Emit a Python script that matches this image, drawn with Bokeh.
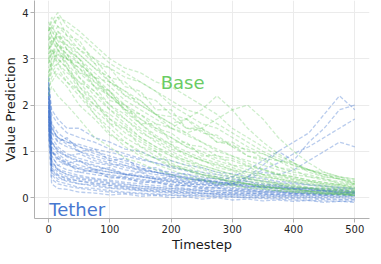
from bokeh.plotting import figure
from bokeh.models import Range1d, FixedTicker
from bokeh.embed import file_html
from bokeh.resources import INLINE

# Timesteps at which each run's value prediction is sampled
timesteps = [0, 5, 15, 30, 50, 75, 100, 125, 150, 175, 200, 225, 250, 275,
             300, 325, 350, 375, 400, 425, 450, 475, 500]

# "Base" runs (green)
base_runs = [
    [3.6, 3.8, 4.0, 3.7, 3.5, 3.2, 2.9, 2.7, 2.5, 2.3, 2.1, 1.9, 1.8, 1.6, 1.4, 1.2, 1.0, 0.85, 0.7, 0.6, 0.5, 0.4, 0.35],
    [3.2, 3.4, 3.5, 3.3, 3.0, 2.6, 2.3, 2.0, 1.7, 1.5, 1.3, 1.1, 0.95, 0.8, 0.7, 0.6, 0.5, 0.4, 0.32, 0.28, 0.22, 0.18, 0.15],
    [2.8, 3.0, 3.1, 2.9, 2.6, 2.2, 1.9, 1.6, 1.3, 1.1, 0.9, 0.8, 0.65, 0.55, 0.45, 0.4, 0.33, 0.28, 0.22, 0.2, 0.15, 0.12, 0.1],
    [3.5, 3.6, 3.4, 3.3, 3.1, 2.8, 2.6, 2.2, 2.0, 1.8, 1.5, 1.35, 1.2, 1.0, 0.9, 0.75, 0.6, 0.5, 0.42, 0.35, 0.3, 0.25, 0.2],
    [2.5, 2.7, 2.9, 2.6, 2.3, 1.9, 1.6, 1.3, 1.1, 0.9, 0.75, 0.6, 0.5, 0.42, 0.36, 0.3, 0.25, 0.2, 0.18, 0.14, 0.12, 0.1, 0.08],
    [3.0, 3.3, 3.6, 3.4, 3.2, 2.9, 2.5, 2.3, 2.1, 1.8, 1.6, 1.7, 1.5, 1.3, 1.1, 0.9, 0.8, 0.65, 0.55, 0.5, 0.4, 0.35, 0.3],
    [3.7, 3.5, 3.3, 3.0, 2.7, 2.4, 2.0, 1.7, 1.45, 1.2, 1.0, 0.85, 0.7, 0.6, 0.5, 0.42, 0.35, 0.3, 0.25, 0.2, 0.17, 0.14, 0.12],
    [2.9, 3.1, 3.3, 3.2, 3.0, 2.7, 2.4, 2.1, 1.9, 1.7, 1.5, 1.4, 1.5, 1.7, 1.9, 2.0, 1.7, 1.3, 1.0, 0.75, 0.55, 0.45, 0.35],
    [3.3, 3.5, 3.7, 3.6, 3.3, 3.0, 2.8, 2.6, 2.5, 2.3, 2.0, 1.8, 1.6, 1.5, 1.3, 1.1, 0.95, 0.8, 0.7, 0.6, 0.5, 0.4, 0.3],
    [2.6, 2.8, 2.9, 2.7, 2.5, 2.3, 2.0, 1.8, 1.5, 1.3, 1.1, 0.95, 0.8, 0.7, 0.6, 0.5, 0.45, 0.4, 0.35, 0.3, 0.25, 0.2, 0.18],
    [3.1, 3.2, 3.0, 2.8, 2.5, 2.1, 1.7, 1.4, 1.2, 1.0, 0.8, 0.7, 0.55, 0.45, 0.38, 0.3, 0.26, 0.22, 0.18, 0.15, 0.12, 0.1, 0.08],
    [3.4, 3.7, 3.9, 3.8, 3.6, 3.3, 3.0, 2.8, 2.7, 2.5, 2.4, 2.2, 2.0, 1.8, 1.5, 1.3, 1.1, 0.9, 0.75, 0.6, 0.5, 0.45, 0.4],
    [2.3, 2.6, 2.8, 2.5, 2.2, 1.8, 1.5, 1.2, 1.0, 0.85, 0.7, 0.6, 0.5, 0.4, 0.35, 0.3, 0.25, 0.2, 0.17, 0.14, 0.1, 0.08, 0.05],
    [3.0, 3.1, 3.2, 3.0, 2.8, 2.5, 2.2, 2.0, 1.8, 1.6, 1.5, 1.7, 1.9, 2.2, 1.9, 1.5, 1.2, 0.95, 0.75, 0.55, 0.45, 0.4, 0.3],
    [3.6, 3.7, 3.5, 3.2, 2.9, 2.6, 2.2, 1.9, 1.6, 1.35, 1.15, 1.0, 0.85, 0.75, 0.65, 0.55, 0.5, 0.45, 0.4, 0.35, 0.3, 0.28, 0.25],
    [2.7, 2.9, 3.0, 2.8, 2.4, 2.0, 1.7, 1.5, 1.25, 1.05, 0.9, 0.75, 0.62, 0.5, 0.42, 0.36, 0.3, 0.26, 0.22, 0.2, 0.18, 0.15, 0.12],
    [3.2, 3.3, 3.5, 3.4, 3.1, 2.8, 2.5, 2.3, 2.0, 1.8, 1.6, 1.4, 1.2, 1.05, 0.9, 0.8, 0.7, 0.6, 0.5, 0.45, 0.38, 0.32, 0.28],
    [2.4, 2.5, 2.7, 2.5, 2.3, 2.0, 1.8, 1.55, 1.3, 1.1, 0.95, 0.8, 0.7, 0.6, 0.5, 0.42, 0.36, 0.3, 0.26, 0.22, 0.2, 0.18, 0.16],
    [3.0, 2.8, 3.2, 2.9, 2.4, 2.1, 1.6, 1.5, 1.1, 1.0, 0.7, 0.65, 0.5, 0.45, 0.3, 0.3, 0.2, 0.22, 0.12, 0.14, 0.08, 0.1, 0.05],
    [3.8, 3.6, 3.9, 3.5, 3.4, 2.9, 2.8, 2.4, 2.3, 1.9, 1.9, 1.5, 1.5, 1.2, 1.15, 0.9, 0.85, 0.65, 0.6, 0.45, 0.42, 0.3, 0.28],
    [2.2, 2.4, 2.2, 2.0, 1.7, 1.3, 1.1, 0.85, 0.75, 0.6, 0.5, 0.4, 0.38, 0.3, 0.25, 0.22, 0.18, 0.15, 0.12, 0.1, 0.08, 0.06, 0.05],
    [3.3, 3.1, 3.4, 3.0, 2.9, 2.4, 2.3, 1.9, 1.8, 1.5, 1.4, 1.15, 1.1, 0.9, 0.85, 0.7, 0.62, 0.52, 0.45, 0.38, 0.33, 0.28, 0.22],
    [2.9, 3.2, 2.9, 3.1, 2.7, 2.6, 2.1, 2.0, 1.6, 1.6, 1.2, 1.2, 0.9, 0.92, 0.7, 0.68, 0.5, 0.5, 0.38, 0.36, 0.28, 0.25, 0.2],
    [3.5, 3.3, 3.6, 3.2, 3.0, 2.5, 2.3, 1.85, 1.6, 1.3, 1.15, 0.9, 0.82, 0.65, 0.58, 0.45, 0.4, 0.32, 0.28, 0.22, 0.2, 0.15, 0.12],
    [2.6, 3.0, 3.3, 3.1, 2.9, 2.6, 2.5, 2.2, 2.1, 1.8, 1.75, 1.5, 1.45, 1.2, 1.2, 1.0, 0.95, 0.8, 0.75, 0.6, 0.55, 0.45, 0.4],
    [3.1, 3.4, 3.2, 2.8, 2.3, 1.8, 1.4, 1.1, 0.9, 0.72, 0.6, 0.48, 0.4, 0.32, 0.28, 0.22, 0.2, 0.15, 0.13, 0.1, 0.08, 0.07, 0.05],
    [2.7, 2.9, 3.1, 3.0, 2.8, 2.4, 2.2, 1.9, 1.7, 1.45, 1.3, 1.1, 1.0, 0.85, 0.8, 0.68, 0.6, 0.5, 0.45, 0.38, 0.33, 0.28, 0.22],
    [3.4, 3.5, 3.3, 3.1, 2.6, 2.3, 1.9, 1.7, 1.4, 1.25, 1.05, 0.95, 0.8, 0.72, 0.6, 0.55, 0.45, 0.42, 0.35, 0.32, 0.25, 0.22, 0.18],
    [3.6, 3.9, 3.7, 3.5, 3.2, 3.0, 2.6, 2.5, 2.2, 2.1, 1.8, 1.7, 1.4, 1.35, 1.1, 1.05, 0.85, 0.8, 0.62, 0.6, 0.45, 0.42, 0.32],
    [2.5, 2.8, 2.6, 2.4, 2.0, 1.7, 1.35, 1.2, 0.95, 0.85, 0.65, 0.6, 0.45, 0.42, 0.32, 0.3, 0.22, 0.2, 0.15, 0.14, 0.1, 0.08, 0.06],
]

# "Tether" runs (blue)
tether_runs = [
    [2.4, 1.2, 1.0, 0.9, 0.8, 0.7, 0.6, 0.5, 0.45, 0.4, 0.35, 0.3, 0.28, 0.25, 0.22, 0.2, 0.18, 0.15, 0.13, 0.12, 0.1, 0.1, 0.08],
    [2.0, 0.8, 0.6, 0.5, 0.45, 0.4, 0.35, 0.3, 0.25, 0.22, 0.2, 0.18, 0.15, 0.12, 0.1, 0.1, 0.08, 0.06, 0.05, 0.05, 0.04, 0.03, 0.03],
    [1.8, 1.5, 1.3, 1.2, 1.1, 1.0, 0.9, 0.8, 0.7, 0.6, 0.55, 0.5, 0.45, 0.4, 0.35, 0.3, 0.28, 0.25, 0.2, 0.18, 0.15, 0.13, 0.12],
    [2.2, 0.6, 0.45, 0.35, 0.3, 0.25, 0.2, 0.18, 0.15, 0.12, 0.1, 0.08, 0.06, 0.05, 0.04, 0.03, 0.02, 0.02, 0.0, 0.0, -0.02, -0.03, -0.03],
    [1.6, 1.0, 0.85, 0.75, 0.65, 0.6, 0.55, 0.5, 0.48, 0.45, 0.4, 0.38, 0.35, 0.3, 0.27, 0.25, 0.22, 0.2, 0.18, 0.16, 0.14, 0.12, 0.1],
    [2.5, 1.8, 1.6, 1.4, 1.3, 1.2, 1.05, 0.95, 0.85, 0.75, 0.65, 0.58, 0.5, 0.45, 0.4, 0.35, 0.3, 0.27, 0.24, 0.2, 0.18, 0.16, 0.15],
    [1.9, 0.5, 0.35, 0.3, 0.22, 0.2, 0.15, 0.12, 0.1, 0.08, 0.06, 0.05, 0.04, 0.03, 0.02, 0.0, -0.02, -0.03, -0.05, -0.06, -0.07, -0.08, -0.08],
    [2.1, 1.3, 1.1, 0.95, 0.85, 0.75, 0.7, 0.6, 0.55, 0.5, 0.45, 0.4, 0.38, 0.35, 0.45, 0.6, 0.8, 1.0, 1.2, 1.4, 1.8, 2.2, 1.9],
    [1.7, 0.9, 0.7, 0.6, 0.55, 0.5, 0.45, 0.4, 0.35, 0.32, 0.28, 0.25, 0.22, 0.2, 0.18, 0.16, 0.14, 0.12, 0.1, 0.09, 0.08, 0.07, 0.06],
    [2.3, 1.4, 1.2, 1.1, 1.0, 0.85, 0.75, 0.65, 0.6, 0.55, 0.5, 0.42, 0.38, 0.33, 0.3, 0.26, 0.22, 0.2, 0.17, 0.15, 0.14, 0.12, 0.1],
    [1.5, 0.7, 0.55, 0.45, 0.4, 0.35, 0.3, 0.25, 0.2, 0.18, 0.15, 0.13, 0.1, 0.08, 0.07, 0.06, 0.05, 0.05, 0.04, 0.03, 0.03, 0.02, 0.02],
    [2.0, 1.1, 0.95, 0.8, 0.7, 0.62, 0.55, 0.5, 0.45, 0.42, 0.38, 0.35, 0.32, 0.3, 0.35, 0.45, 0.6, 0.75, 0.95, 1.1, 1.3, 1.5, 1.7],
    [2.6, 1.6, 1.4, 1.25, 1.1, 0.95, 0.85, 0.75, 0.65, 0.55, 0.5, 0.45, 0.4, 0.35, 0.3, 0.28, 0.25, 0.22, 0.2, 0.18, 0.16, 0.14, 0.12],
    [1.4, 0.4, 0.3, 0.25, 0.2, 0.16, 0.12, 0.1, 0.08, 0.06, 0.05, 0.04, 0.03, 0.02, 0.01, 0.0, 0.0, -0.01, -0.02, -0.03, -0.04, -0.05, -0.05],
    [1.9, 1.0, 0.8, 0.7, 0.62, 0.55, 0.48, 0.42, 0.38, 0.34, 0.3, 0.27, 0.24, 0.22, 0.2, 0.18, 0.16, 0.15, 0.14, 0.13, 0.12, 0.11, 0.1],
    [2.2, 1.2, 1.0, 0.88, 0.78, 0.68, 0.6, 0.52, 0.46, 0.4, 0.36, 0.33, 0.3, 0.28, 0.26, 0.24, 0.23, 0.22, 0.21, 0.2, 0.2, 0.19, 0.18],
    [1.8, 0.65, 0.5, 0.42, 0.36, 0.3, 0.26, 0.22, 0.18, 0.15, 0.13, 0.11, 0.1, 0.09, 0.08, 0.08, 0.07, 0.07, 0.06, 0.06, 0.05, 0.05, 0.05],
    [2.4, 1.5, 1.3, 1.15, 1.0, 0.9, 0.8, 0.7, 0.62, 0.55, 0.48, 0.42, 0.37, 0.33, 0.3, 0.4, 0.55, 0.5, 0.6, 0.8, 1.0, 1.2, 1.1],
    [1.6, 0.9, 0.7, 0.75, 0.55, 0.6, 0.42, 0.45, 0.32, 0.35, 0.25, 0.27, 0.2, 0.22, 0.15, 0.17, 0.12, 0.14, 0.08, 0.1, 0.06, 0.08, 0.05],
    [2.3, 1.6, 1.2, 1.3, 1.0, 1.05, 0.8, 0.85, 0.62, 0.65, 0.5, 0.52, 0.4, 0.42, 0.32, 0.35, 0.26, 0.28, 0.2, 0.22, 0.16, 0.18, 0.12],
    [1.3, 0.3, 0.2, 0.18, 0.12, 0.1, 0.06, 0.08, 0.03, 0.05, 0.0, 0.02, -0.03, 0.0, -0.05, -0.03, -0.07, -0.05, -0.08, -0.06, -0.1, -0.08, -0.1],
    [2.0, 1.0, 0.9, 0.75, 0.8, 0.6, 0.65, 0.5, 0.55, 0.4, 0.45, 0.33, 0.38, 0.27, 0.3, 0.22, 0.25, 0.18, 0.2, 0.14, 0.16, 0.1, 0.12],
    [2.5, 1.9, 1.7, 1.5, 1.5, 1.3, 1.2, 1.05, 1.0, 0.85, 0.8, 0.7, 0.65, 0.55, 0.52, 0.45, 0.42, 0.35, 0.33, 0.28, 0.26, 0.22, 0.2],
    [1.7, 0.55, 0.4, 0.38, 0.3, 0.28, 0.22, 0.2, 0.16, 0.14, 0.12, 0.1, 0.09, 0.07, 0.06, 0.05, 0.04, 0.03, 0.02, 0.01, 0.0, 0.0, -0.02],
    [2.1, 1.2, 1.05, 0.9, 0.95, 0.8, 0.72, 0.7, 0.58, 0.55, 0.46, 0.44, 0.36, 0.34, 0.28, 0.3, 0.22, 0.24, 0.18, 0.2, 0.14, 0.16, 0.12],
    [1.9, 0.8, 0.62, 0.55, 0.48, 0.42, 0.38, 0.33, 0.3, 0.26, 0.24, 0.2, 0.19, 0.16, 0.15, 0.13, 0.12, 0.1, 0.1, 0.08, 0.08, 0.07, 0.06],
    [2.2, 1.4, 1.3, 1.2, 1.15, 1.05, 0.98, 0.9, 0.82, 0.75, 0.68, 0.6, 0.55, 0.5, 0.45, 0.4, 0.36, 0.32, 0.3, 0.27, 0.24, 0.22, 0.2],
    [1.5, 0.6, 0.48, 0.4, 0.36, 0.32, 0.27, 0.24, 0.21, 0.19, 0.17, 0.15, 0.14, 0.12, 0.11, 0.1, 0.09, 0.08, 0.08, 0.07, 0.06, 0.06, 0.05],
    [2.4, 1.0, 0.85, 0.72, 0.62, 0.55, 0.5, 0.45, 0.4, 0.36, 0.34, 0.3, 0.28, 0.26, 0.3, 0.45, 0.7, 1.0, 0.8, 1.2, 1.5, 1.9, 2.0],
    [1.8, 0.75, 0.6, 0.5, 0.42, 0.38, 0.32, 0.28, 0.25, 0.22, 0.2, 0.18, 0.16, 0.15, 0.14, 0.13, 0.12, 0.12, 0.11, 0.1, 0.1, 0.09, 0.09],
]

x_ticks = [0, 100, 200, 300, 400, 500]
y_ticks = [0, 1, 2, 3, 4]
base_label = "Base"
tether_label = "Tether"

GREEN = "#6acc64"
BLUE = "#4878d0"
FONT = "DejaVu Sans"

p = figure(frame_width=335, frame_height=218, output_backend="svg", toolbar_location=None,
           x_range=Range1d(-23, 524), y_range=Range1d(-0.45, 4.26),
           min_border_left=3, min_border_right=1, min_border_top=0, min_border_bottom=0)
p.outline_line_color = None
p.background_fill_color = "white"

for run in tether_runs:
    p.line(timesteps, run, line_color=BLUE, line_alpha=0.38, line_width=1.3, line_dash="4 2")
for run in base_runs:
    p.line(timesteps, run, line_color=GREEN, line_alpha=0.33, line_width=1.3, line_dash="4 2")

p.text(x=[183], y=[2.49], text=[base_label], text_color=GREEN, text_font_size="18px",
       text_font={"value": FONT}, text_baseline="alphabetic")
p.text(x=[1], y=[-0.26], text=[tether_label], text_color=BLUE, text_font_size="18px",
       text_font={"value": FONT}, text_baseline="alphabetic")

p.xaxis.ticker = FixedTicker(ticks=x_ticks)
p.yaxis.ticker = FixedTicker(ticks=y_ticks)
for ax in (p.xaxis[0], p.yaxis[0]):
    ax.axis_line_color = "#b0b0b0"
    ax.major_tick_line_color = "#b0b0b0"
    ax.major_tick_out = 4
    ax.major_tick_in = 0
    ax.minor_tick_line_color = None
    ax.major_label_text_font = FONT
    ax.major_label_text_font_size = "10px"
    ax.major_label_text_color = "#262626"
    ax.axis_label_text_font = FONT
    ax.axis_label_text_font_size = "13px"
    ax.axis_label_text_font_style = "normal"
    ax.axis_label_text_color = "#1a1a1a"
    ax.major_label_standoff = 2
    ax.axis_label_standoff = 1
p.xaxis.axis_label = "Timestep"
p.yaxis.axis_label = "Value Prediction"

p.xgrid.grid_line_color = "#ebebeb"
p.ygrid.grid_line_color = "#ebebeb"
p.xgrid.ticker = FixedTicker(ticks=x_ticks)
p.ygrid.ticker = FixedTicker(ticks=y_ticks)

open("out.html", "w").write(file_html(p, INLINE))
